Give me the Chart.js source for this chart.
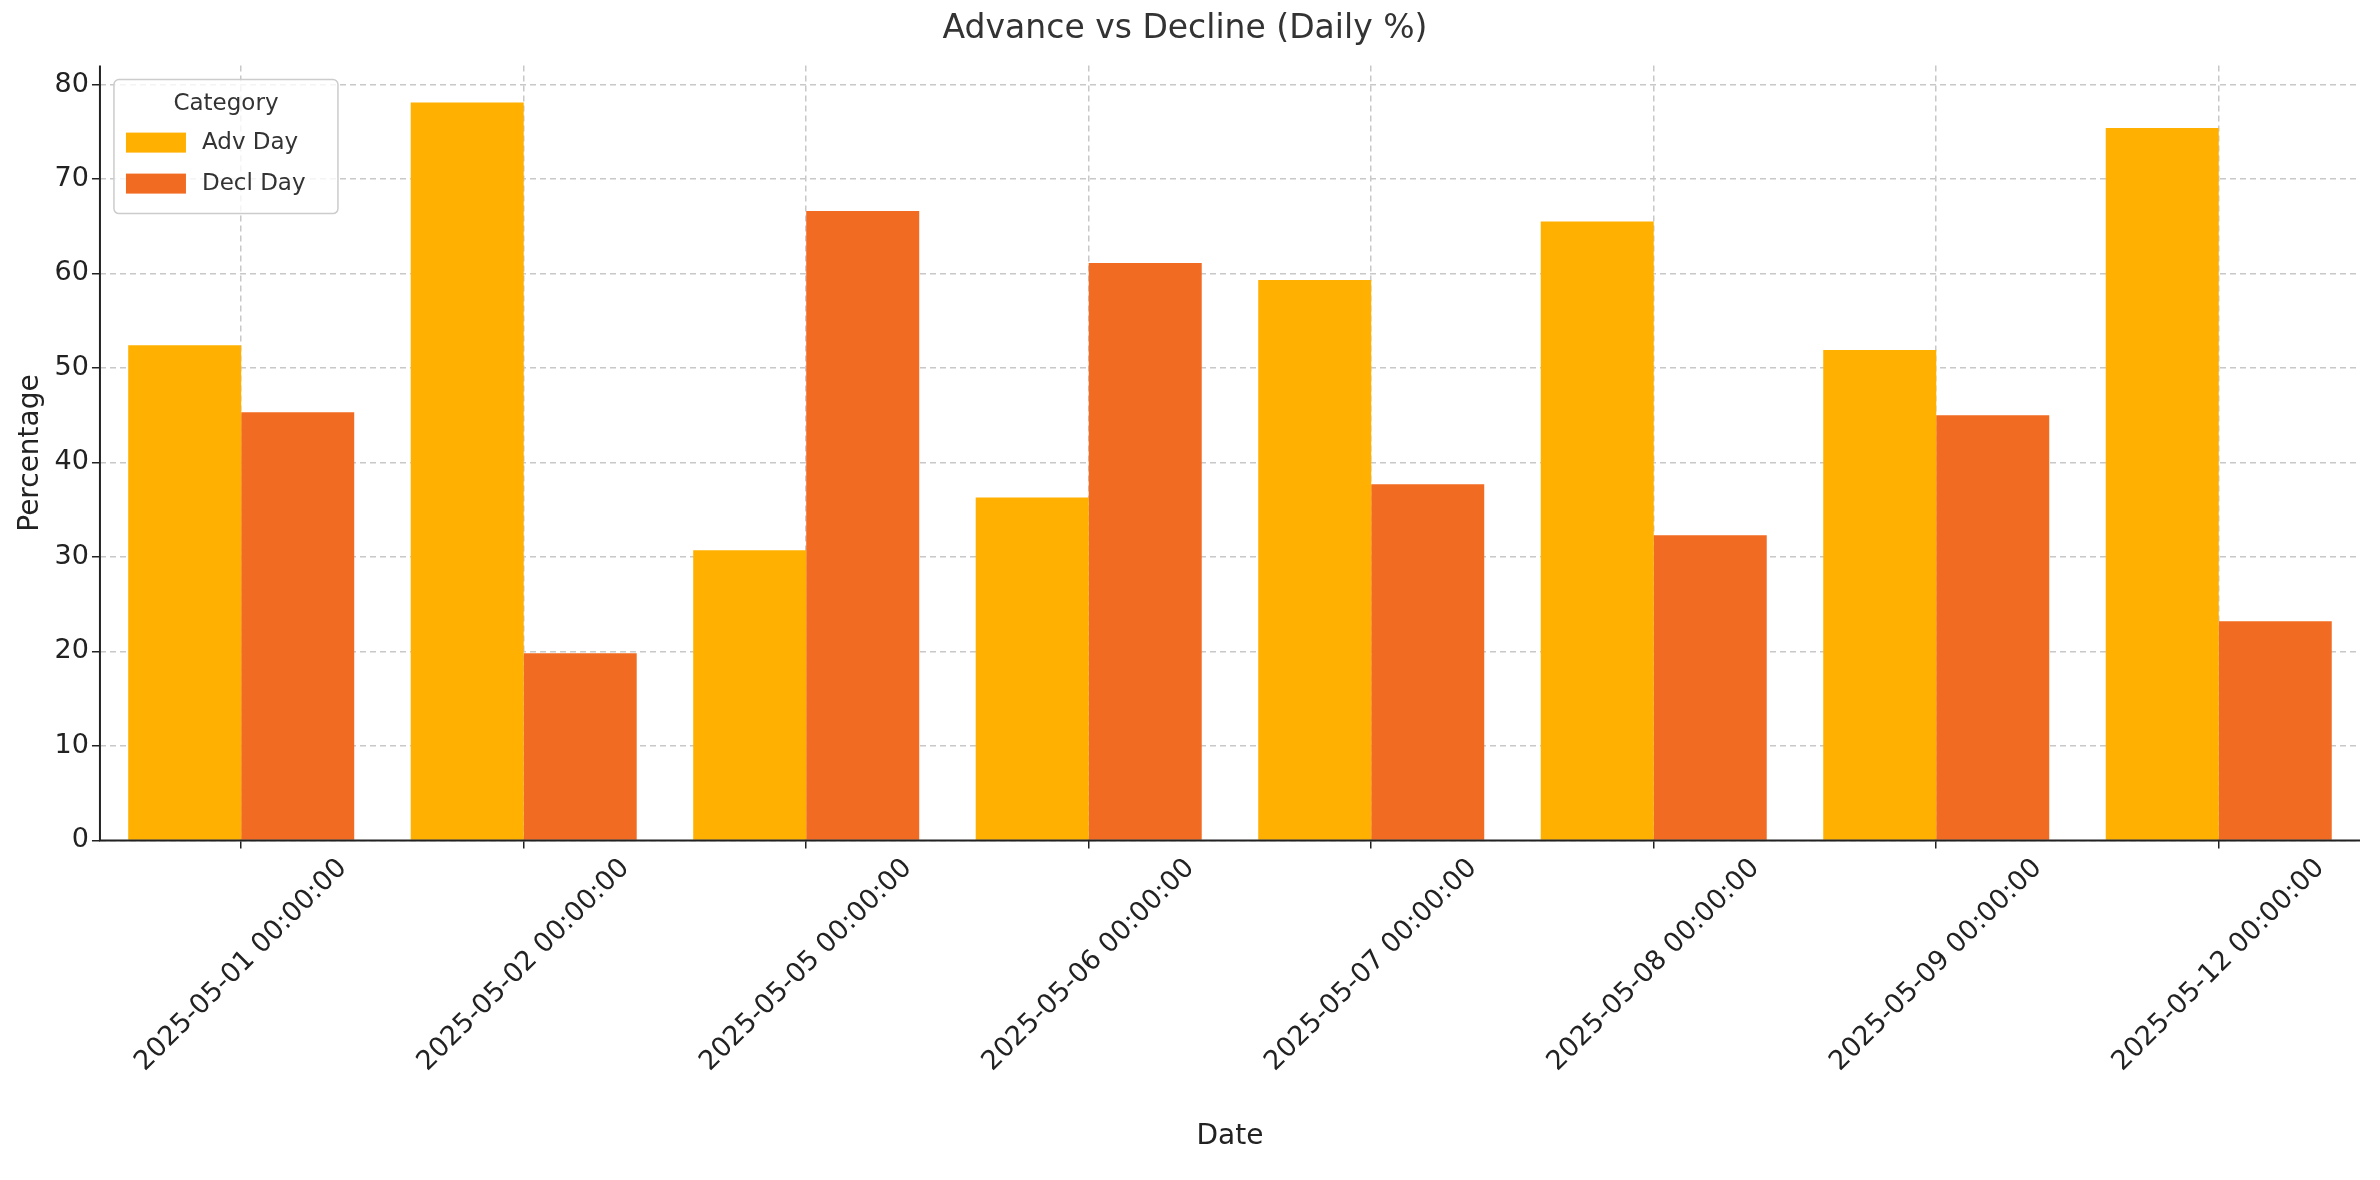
<!DOCTYPE html>
<html>
<head>
<meta charset="utf-8">
<script src="https://cdn.jsdelivr.net/npm/chart.js@4.4.1/dist/chart.umd.min.js"></script>
<style>
  html, body { margin: 0; padding: 0; background: #fff; }
  #wrap { width: 2380px; height: 1180px; }
</style>
</head>
<body>
<div id="wrap"><canvas id="chart"></canvas></div>
<script>
const dates = ['2025-05-01 00:00:00', '2025-05-02 00:00:00', '2025-05-05 00:00:00', '2025-05-06 00:00:00',
  '2025-05-07 00:00:00', '2025-05-08 00:00:00', '2025-05-09 00:00:00', '2025-05-12 00:00:00'];
const advDay = [52.4, 78.1, 30.7, 36.3, 59.3, 65.5, 51.9, 75.4];
const declDay = [45.3, 19.8, 66.6, 61.1, 37.7, 32.3, 45.0, 23.2];
const yTicks = [0, 10, 20, 30, 40, 50, 60, 70, 80];

const FONT = "'DejaVu Sans', sans-serif";
Chart.defaults.font.family = FONT;
Chart.defaults.color = '#222';

// Axis spines, matplotlib-style rotated x labels and a boxed legend
const extras = {
  id: 'extras',
  afterDraw(chart) {
    const { ctx, chartArea: a } = chart;
    const xs = chart.scales.x;
    ctx.save();
    ctx.strokeStyle = '#222';
    ctx.lineWidth = 2;
    ctx.setLineDash([]);
    ctx.beginPath();
    ctx.moveTo(a.left, a.top);
    ctx.lineTo(a.left, a.bottom);
    ctx.lineTo(a.right, a.bottom);
    ctx.stroke();

    // x labels: rotated 45°, bbox centred on the tick
    ctx.font = '27px ' + FONT;
    ctx.fillStyle = '#222';
    ctx.textAlign = 'center';
    ctx.textBaseline = 'middle';
    dates.forEach((lab, i) => {
      const x = xs.getPixelForTick(i);
      const w = ctx.measureText(lab).width;
      const h = 27;
      const bb = (w + h) * Math.SQRT1_2;
      ctx.save();
      ctx.translate(x, a.bottom + 14 + bb / 2);
      ctx.rotate(-Math.PI / 4);
      ctx.fillText(lab, 0, 0);
      ctx.restore();
    });

    // legend
    const lx = a.left + 14, ly = a.top + 14, lw = 224, lh = 134;
    ctx.fillStyle = 'rgba(255,255,255,0.8)';
    ctx.strokeStyle = '#ccc';
    ctx.lineWidth = 1.5;
    ctx.beginPath();
    ctx.roundRect(lx, ly, lw, lh, 5);
    ctx.fill();
    ctx.stroke();
    ctx.fillStyle = '#333';
    ctx.font = '23px ' + FONT;
    ctx.fillText('Category', lx + lw / 2, ly + 24);
    ctx.textAlign = 'left';
    chart.data.datasets.forEach((ds, i) => {
      const ry = ly + 63 + i * 41;
      ctx.fillStyle = ds.backgroundColor;
      ctx.fillRect(lx + 12, ry - 10, 60, 20);
      ctx.fillStyle = '#333';
      ctx.fillText(ds.label, lx + 88, ry);
    });
    ctx.restore();
  }
};

new Chart(document.getElementById('chart'), {
  type: 'bar',
  data: {
    labels: dates,
    datasets: [
      { label: 'Adv Day', data: advDay, backgroundColor: '#FFB000' },
      { label: 'Decl Day', data: declDay, backgroundColor: '#F26B22' }
    ]
  },
  options: {
    responsive: true,
    maintainAspectRatio: false,
    animation: false,
    categoryPercentage: 0.8,
    barPercentage: 1.0,
    layout: { padding: { left: 10, right: 20, top: 4, bottom: 22 } },
    plugins: {
      title: {
        display: true,
        text: 'Advance vs Decline (Daily %)',
        font: { size: 33, weight: 'normal' },
        color: '#333',
        padding: { top: 6, bottom: 16 }
      },
      legend: { display: false },
      tooltip: { enabled: false }
    },
    scales: {
      x: {
        grid: { display: true, color: '#c8c8c8', lineWidth: 1.5, offset: false, drawTicks: true, tickColor: '#222', tickLength: 8 },
        border: { display: false, dash: [6, 4] },
        ticks: { display: false },
        title: { display: true, text: 'Date', font: { size: 28 }, color: '#222', padding: { top: 272 } }
      },
      y: {
        min: 0, max: 82,
        afterBuildTicks: s => { s.ticks = yTicks.map(v => ({ value: v })); },
        grid: { color: '#c8c8c8', lineWidth: 1.5, tickColor: '#222', tickLength: 8 },
        border: { display: false, dash: [6, 4] },
        ticks: { font: { size: 27 }, color: '#222' },
        title: { display: true, text: 'Percentage', font: { size: 28 }, color: '#222' }
      }
    }
  },
  plugins: [extras]
});
</script>
</body>
</html>
